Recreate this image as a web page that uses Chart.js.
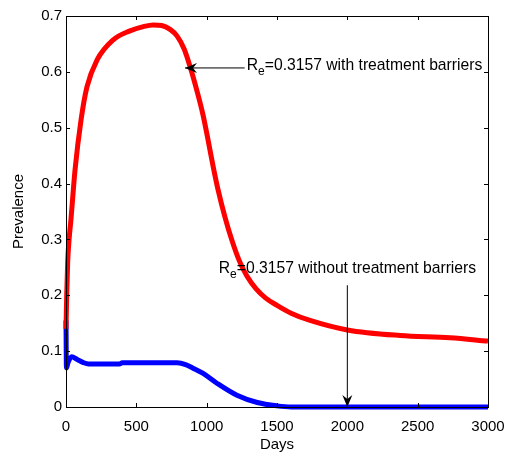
<!DOCTYPE html>
<html>
<head>
<meta charset="utf-8">
<script src="https://cdn.jsdelivr.net/npm/chart.js@4.4.1/dist/chart.umd.min.js"></script>
<style>
  html, body { margin: 0; padding: 0; background: #fff; }
  #wrap { width: 511px; height: 454px; }
</style>
</head>
<body>
<div id="wrap"><canvas id="canvasChart"></canvas></div>
<script>
// prevalence over time, with and without treatment barriers
const redDays = [0, 5, 12, 22, 35, 64, 107, 149, 220, 334, 450, 550, 620, 680, 740, 790, 840, 885, 931, 974, 1010, 1045, 1080, 1130, 1180, 1230, 1285, 1350, 1420, 1500, 1600, 1735, 2000, 2375, 2730, 3000];
const redValues = [0.14, 0.2, 0.26, 0.3, 0.335, 0.424, 0.514, 0.573, 0.621, 0.657, 0.673, 0.681, 0.684, 0.683, 0.676, 0.664, 0.641, 0.607, 0.566, 0.523, 0.478, 0.432, 0.39, 0.34, 0.298, 0.263, 0.235, 0.212, 0.195, 0.182, 0.168, 0.155, 0.138, 0.128, 0.124, 0.118];

const blueDays = [0, 3, 15, 40, 80, 120, 160, 380, 400, 790, 850, 900, 975, 1070, 1215, 1360, 1500, 1600, 2000, 3000];
const blueValues = [0.155, 0.07, 0.08, 0.09, 0.085, 0.08, 0.077, 0.077, 0.079, 0.079, 0.076, 0.07, 0.06, 0.043, 0.021, 0.008, 0.002, 0, 0, 0];

const xTicks = [0, 500, 1000, 1500, 2000, 2500, 3000];
const yTicks = [0, 0.1, 0.2, 0.3, 0.4, 0.5, 0.6, 0.7];

// text arrows, in data units
const notes = [
  { text: '=0.3157 with treatment barriers', tx: 1285, ty: 0.604, from: [1270, 0.607], to: [846, 0.607] },
  { text: '=0.3157 without treatment barriers', tx: 1086, ty: 0.24, from: [2000, 0.218], to: [2000, 0] }
];

const FONT = '"Liberation Sans", Arial, sans-serif';

function pts(xs, ys) {
  return xs.map((x, i) => ({ x: x, y: ys[i] }));
}

function arrowHead(ctx, x, y, ang) {
  const len = 12, half = 5, notch = 8;
  ctx.save();
  ctx.translate(x, y);
  ctx.rotate(ang);
  ctx.beginPath();
  ctx.moveTo(0, 0);
  ctx.lineTo(-len, -half);
  ctx.lineTo(-notch, 0);
  ctx.lineTo(-len, half);
  ctx.closePath();
  ctx.fill();
  ctx.restore();
}

// box around the plot, inward ticks on all four sides, and the notes
const frame = {
  id: 'frame',
  afterDraw(chart) {
    const { ctx, chartArea: a, scales } = chart;
    const xs = scales.x, ys = scales.y;
    ctx.save();
    ctx.strokeStyle = '#000';
    ctx.lineWidth = 1;
    ctx.strokeRect(a.left + 0.5, a.top + 0.5, a.right - a.left, a.bottom - a.top);
    ctx.beginPath();
    xTicks.forEach(v => {
      const px = Math.round(xs.getPixelForValue(v)) + 0.5;
      ctx.moveTo(px, a.bottom); ctx.lineTo(px, a.bottom - 4);
      ctx.moveTo(px, a.top); ctx.lineTo(px, a.top + 4);
    });
    yTicks.forEach(v => {
      const py = Math.round(ys.getPixelForValue(v)) + 0.5;
      ctx.moveTo(a.left, py); ctx.lineTo(a.left + 4, py);
      ctx.moveTo(a.right, py); ctx.lineTo(a.right - 4, py);
    });
    ctx.stroke();

    ctx.fillStyle = '#000';
    notes.forEach(n => {
      const x1 = xs.getPixelForValue(n.from[0]), y1 = ys.getPixelForValue(n.from[1]);
      const x2 = xs.getPixelForValue(n.to[0]), y2 = ys.getPixelForValue(n.to[1]);
      ctx.beginPath();
      ctx.moveTo(x1, y1);
      ctx.lineTo(x2, y2);
      ctx.stroke();
      arrowHead(ctx, x2, y2, Math.atan2(y2 - y1, x2 - x1));

      const tx = xs.getPixelForValue(n.tx), ty = ys.getPixelForValue(n.ty);
      ctx.textBaseline = 'alphabetic';
      ctx.font = '15.7px ' + FONT;
      ctx.fillText('R', tx, ty);
      const rw = ctx.measureText('R').width;
      ctx.font = '12px ' + FONT;
      ctx.fillText('e', tx + rw, ty + 5);
      const ew = ctx.measureText('e').width;
      ctx.font = '15.7px ' + FONT;
      ctx.fillText(n.text, tx + rw + ew, ty);
    });
    ctx.restore();
  }
};

const canvas = document.getElementById('canvasChart');
const ctx = canvas.getContext('2d');

new Chart(ctx, {
  type: 'line',
  data: {
    datasets: [{
      label: 'with treatment barriers',
      data: pts(redDays, redValues),
      borderColor: '#ff0000',
      borderWidth: 5,
      pointRadius: 0,
      cubicInterpolationMode: 'monotone',
      clip: 6,
      fill: false
    }, {
      label: 'without treatment barriers',
      data: pts(blueDays, blueValues),
      borderColor: '#0000ff',
      borderWidth: 5,
      pointRadius: 0,
      cubicInterpolationMode: 'monotone',
      clip: 6,
      fill: false
    }]
  },
  options: {
    responsive: true,
    maintainAspectRatio: false,
    animation: false,
    layout: { padding: { top: 16, right: 23, left: 0, bottom: 0 } },
    plugins: {
      legend: { display: false },
      tooltip: { enabled: false }
    },
    scales: {
      x: {
        type: 'linear',
        min: 0,
        max: 3000,
        afterBuildTicks: s => { s.ticks = xTicks.map(v => ({ value: v })); },
        afterFit: s => { s.height = 47; s.paddingLeft = 0; s.paddingRight = 0; },
        grid: { display: false, drawTicks: false },
        border: { display: false },
        ticks: {
          color: '#000', padding: 11, maxRotation: 0, font: { family: FONT, size: 15 },
          callback: v => String(v)
        },
        title: { display: true, text: 'Days', color: '#000', padding: { top: 0, bottom: 0 }, font: { family: FONT, size: 15 } }
      },
      y: {
        min: 0,
        max: 0.7,
        afterBuildTicks: s => { s.ticks = yTicks.map(v => ({ value: v })); },
        afterFit: s => { s.width = 66; s.paddingTop = 0; s.paddingBottom = 0; },
        grid: { display: false, drawTicks: false },
        border: { display: false },
        ticks: {
          color: '#000', padding: 4, font: { family: FONT, size: 15 },
          callback: v => String(Number(v.toFixed(1)))
        },
        title: { display: true, text: 'Prevalence', color: '#000', padding: { top: 10, bottom: 0 }, font: { family: FONT, size: 15 } }
      }
    }
  },
  plugins: [frame]
});
</script>
</body>
</html>
